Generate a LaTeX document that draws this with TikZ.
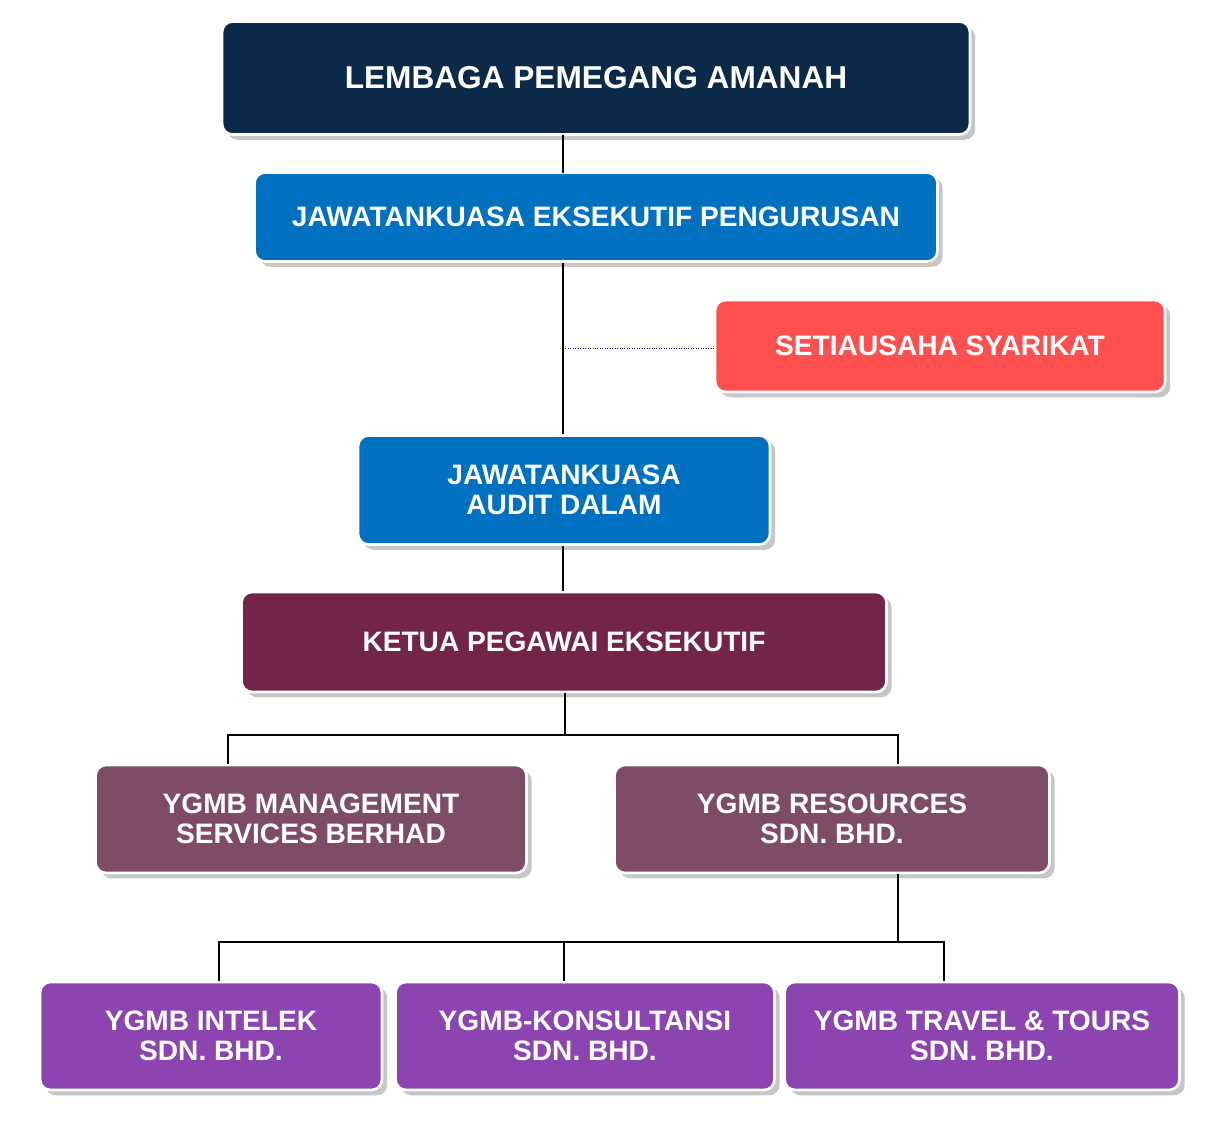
\documentclass[tikz,border=0pt]{standalone}
\usepackage{fontspec}
\setmainfont{Liberation Sans}
\usetikzlibrary{positioning,shadows}
\definecolor{navy}{RGB}{11,42,74}
\definecolor{midblue}{RGB}{0,112,192}
\definecolor{salmon}{RGB}{255,80,80}
\definecolor{wine}{RGB}{114,37,72}
\definecolor{mauve}{RGB}{127,76,103}
\definecolor{violet}{RGB}{139,68,176}
\tikzset{
  unit/.style={draw=white, line width=1.5pt, rounded corners=6pt, text=white, align=center,
    font=\fontsize{16}{17}\selectfont\bfseries, inner sep=0pt,
    drop shadow={shadow xshift=3pt, shadow yshift=-3pt, fill=gray!45, opacity=1}},
  link/.style={line width=1.6pt, black}
}
\begin{document}
\begin{tikzpicture}[x=0.02cm,y=-0.02cm]
\useasboundingbox (0,0) rectangle (1211,1144);
% upper levels
\node[unit, fill=navy, minimum width=14.96cm, minimum height=2.26cm, font=\fontsize{18}{19}\selectfont\bfseries] (board) at (596,78) {LEMBAGA PEMEGANG AMANAH};
\node[unit, fill=midblue, minimum width=13.66cm, minimum height=1.78cm] (exco) at (596,217) {JAWATANKUASA EKSEKUTIF PENGURUSAN};
\node[unit, fill=salmon, minimum width=9cm, minimum height=1.84cm] (secretary) at (940,346) {SETIAUSAHA SYARIKAT};
\node[unit, fill=midblue, minimum width=8.24cm, minimum height=2.18cm] (audit) at (564,490) {JAWATANKUASA\\AUDIT DALAM};
\node[unit, fill=wine, minimum width=12.9cm, minimum height=2cm] (ceo) at (564,642) {KETUA PEGAWAI EKSEKUTIF};
% subsidiaries
\node[unit, fill=mauve, minimum width=8.62cm, minimum height=2.16cm] (services) at (311,819) {YGMB MANAGEMENT\\SERVICES BERHAD};
\node[unit, fill=mauve, minimum width=8.7cm, minimum height=2.16cm] (resources) at (832,819) {YGMB RESOURCES\\SDN. BHD.};
\node[unit, fill=violet, minimum width=6.84cm, minimum height=2.16cm] (intelek) at (211,1036) {YGMB INTELEK\\SDN. BHD.};
\node[unit, fill=violet, minimum width=7.58cm, minimum height=2.16cm] (konsult) at (585,1036) {YGMB-KONSULTANSI\\SDN. BHD.};
\node[unit, fill=violet, minimum width=7.9cm, minimum height=2.16cm] (travel) at (982,1036) {YGMB TRAVEL \& TOURS\\SDN. BHD.};
% connectors
\coordinate (spine) at (563,348);
\coordinate (split1) at (565,735);
\coordinate (split2) at (898,942);
\begin{scope}[on background layer/.try]
\end{scope}
\draw[link] (563,135) -- (563,173);
\draw[link] (exco.south -| spine) -- (audit.north -| spine);
\draw[blue!60!black, densely dotted] (spine) -- (secretary.west |- spine);
\draw[link] (audit.south -| spine) -- (ceo.north -| spine);
\draw[link] (ceo.south -| split1) -- (split1) -| (services.north -| 228,0);
\draw[link] (split1) -| (resources.north -| split2);
\draw[link] (resources.south -| split2) -- (split2) -| (intelek.north -| 219,0);
\draw[link] (split2) -| (travel.north -| 944,0);
\draw[link] (konsult.north -| 564,0) -- (564,942);
\end{tikzpicture}
\end{document}
